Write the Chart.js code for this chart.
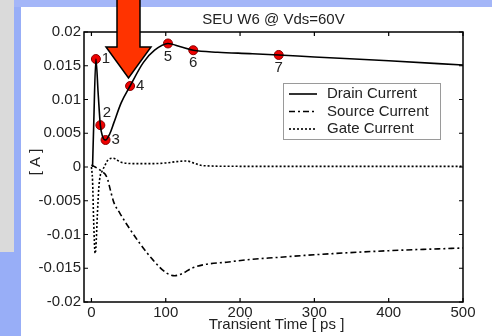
<!DOCTYPE html>
<html>
<head>
<meta charset="utf-8">
<script src="https://cdn.jsdelivr.net/npm/chart.js@4/dist/chart.umd.min.js"></script>
<style>
  html,body{margin:0;padding:0;}
  body{width:492px;height:336px;position:relative;overflow:hidden;background:#98aef7;}
  #topband{position:absolute;left:0;top:0;width:492px;height:7px;background:#a4b6f8;}
  #graybox{position:absolute;left:0;top:0;width:14px;height:252px;background:#dadada;}
  #panel{position:absolute;left:21px;top:7px;width:471px;height:329px;background:#fff;}
  #wrap{position:absolute;left:0;top:0;width:492px;height:336px;}
</style>
</head>
<body>
<div id="topband"></div>
<div id="graybox"></div>
<div id="panel"></div>
<div id="wrap"><canvas id="chart" width="492" height="336"></canvas></div>
<script>
/* SEU W6 transient currents, Vds = 60V */

const TITLE = 'SEU W6 @ Vds=60V';
const X_TITLE = 'Transient Time [ ps ]';
const Y_TITLE = '[ A ]';

const xTicks = [0, 100, 200, 300, 400, 500];
const yTicks = [-0.02, -0.015, -0.01, -0.005, 0, 0.005, 0.01, 0.015, 0.02];

// drain current (solid)
const drainT = [1.5, 3, 6, 9, 12, 15, 19, 25, 30, 40, 52, 70, 85, 103, 120, 137, 170, 213, 252, 300, 400, 500];
const drainI = [0, 0.006, 0.016, 0.011, 0.0062, 0.0045, 0.004, 0.005, 0.0065, 0.0095, 0.012, 0.0155, 0.0173, 0.0183, 0.0178, 0.0173, 0.0170, 0.0168, 0.0166, 0.0163, 0.01575, 0.0151];

// source current (dash-dot)
const sourceT = [0, 5, 11, 14, 18, 22, 25, 30, 38, 47, 65, 83, 101, 112, 122, 135, 150, 182, 213, 250, 300, 400, 500];
const sourceI = [0.0003, 0, -0.0004, -0.0007, -0.001, -0.0019, -0.0032, -0.0052, -0.0068, -0.0084, -0.0113, -0.0138, -0.0157, -0.0161, -0.0158, -0.015, -0.0145, -0.0141, -0.0137, -0.0134, -0.013, -0.0124, -0.012];

// gate current (dotted)
const gateT = [0, 1.5, 3, 5, 6, 8, 10, 12, 14, 18, 22, 29, 40, 60, 80, 100, 115, 128, 140, 150, 200, 300, 400, 500];
const gateI = [0, -0.002, -0.008, -0.0128, -0.012, -0.007, -0.003, -0.0012, -0.0007, 0.0002, 0.001, 0.0013, 0.0007, 0.0005, 0.0005, 0.0006, 0.0008, 0.0009, 0.0005, 0.0002, 0.0001, 0.0001, 0.0001, 0.0001];

// numbered sample points on the drain curve
const markerT = [6, 12, 19, 52, 103, 137, 252];
const markerI = [0.016, 0.0062, 0.004, 0.012, 0.0183, 0.0173, 0.0166];
const markerLabels = ['1', '2', '3', '4', '5', '6', '7'];
const markerLabelSide = ['right', 'upright', 'right', 'right', 'below', 'below', 'below'];

const legendNames = ['Drain Current', 'Source Current', 'Gate Current'];

const FONT = '15px "Liberation Sans", Arial, sans-serif';
const INK = '#222';
const DASH_SRC = [6, 3, 2, 3];
const DASH_GATE = [2, 2];

const pts = (xs, ys) => xs.map((x, i) => ({x, y: ys[i]}));

function lineSet(label, xs, ys, dash){
  return {label, data: pts(xs, ys), showLine: true, borderColor: '#000', borderWidth: 1.6,
    borderDash: dash, pointRadius: 0, fill: false, cubicInterpolationMode: 'monotone'};
}

const sideOffset = {right: [10, 0], upright: [6.5, -12], below: [0, 13]};

const decor = {id: 'decor',
  afterDatasetsDraw(chart){
    const {ctx, chartArea: {left, right, top, bottom}, scales: {x, y}} = chart;
    ctx.save();
    // frame with inward ticks on all four sides
    ctx.strokeStyle = '#000'; ctx.lineWidth = 1.5; ctx.setLineDash([]);
    ctx.strokeRect(left, top, right - left, bottom - top);
    ctx.lineWidth = 1.2;
    ctx.beginPath();
    xTicks.forEach(v => {
      const px = x.getPixelForValue(v);
      ctx.moveTo(px, bottom); ctx.lineTo(px, bottom - 4);
      ctx.moveTo(px, top); ctx.lineTo(px, top + 4);
    });
    yTicks.forEach(v => {
      const py = y.getPixelForValue(v);
      ctx.moveTo(left, py); ctx.lineTo(left + 4, py);
      ctx.moveTo(right, py); ctx.lineTo(right - 4, py);
    });
    ctx.stroke();

    // point numbers
    ctx.font = FONT; ctx.fillStyle = INK; ctx.textAlign = 'center'; ctx.textBaseline = 'middle';
    const meta = chart.getDatasetMeta(3);
    meta.data.forEach((el, i) => {
      const o = sideOffset[markerLabelSide[i]];
      ctx.fillText(markerLabels[i], el.x + o[0], el.y + o[1]);
    });

    // legend box
    const bx = 283, by = 83, bw = 157, bh = 56;
    ctx.fillStyle = '#fff'; ctx.fillRect(bx, by, bw, bh);
    ctx.strokeStyle = '#9a9a9a'; ctx.lineWidth = 1; ctx.strokeRect(bx + 0.5, by + 0.5, bw, bh);
    const dashes = [[], DASH_SRC, DASH_GATE];
    legendNames.forEach((name, i) => {
      const ry = by + 11 + i * 17.5;
      ctx.strokeStyle = '#000'; ctx.lineWidth = 1.6; ctx.setLineDash(dashes[i]);
      ctx.beginPath(); ctx.moveTo(bx + 6, ry); ctx.lineTo(bx + 34, ry); ctx.stroke();
      ctx.setLineDash([]);
      ctx.fillStyle = INK; ctx.textAlign = 'left';
      ctx.fillText(name, bx + 44, ry);
    });

    // titles
    ctx.textAlign = 'center';
    ctx.fillText(TITLE, (left + right) / 2, 20);
    ctx.fillText(X_TITLE, (left + right) / 2 + 3, 325);
    ctx.translate(36, 162); ctx.rotate(-Math.PI / 2);
    ctx.fillText(Y_TITLE, 0, 0);
    ctx.restore();
  },
  afterDraw(chart){
    // big red arrow pointing at sample 4
    const {ctx} = chart;
    ctx.save();
    ctx.beginPath();
    ctx.moveTo(117, -2); ctx.lineTo(140, -2); ctx.lineTo(140, 47); ctx.lineTo(151, 47);
    ctx.lineTo(128.5, 78); ctx.lineTo(106, 47); ctx.lineTo(117, 47); ctx.closePath();
    ctx.fillStyle = '#ff3300'; ctx.fill();
    ctx.strokeStyle = '#000'; ctx.lineWidth = 1.5; ctx.lineJoin = 'miter'; ctx.stroke();
    ctx.restore();
  }
};

new Chart(document.getElementById('chart'), {
  type: 'scatter',
  data: {datasets: [
    lineSet('Drain Current', drainT, drainI, []),
    lineSet('Source Current', sourceT, sourceI, DASH_SRC),
    lineSet('Gate Current', gateT, gateI, DASH_GATE),
    {label: 'samples', data: pts(markerT, markerI), showLine: false, pointRadius: 4.5,
      pointBackgroundColor: '#f00000', pointBorderColor: '#8a0000', pointBorderWidth: 1}
  ]},
  options: {
    responsive: false, animation: false, devicePixelRatio: 1,
    layout: {padding: {top: 32, right: 29, left: 0, bottom: 0}},
    plugins: {legend: {display: false}, tooltip: {enabled: false}},
    scales: {
      x: {type: 'linear', min: -10, max: 500,
        grid: {display: false, drawTicks: false}, border: {display: false},
        afterBuildTicks: s => { s.ticks = xTicks.map(v => ({value: v})); },
        afterFit: s => { s.height = 34; },
        ticks: {padding: 2, color: INK, font: {family: '"Liberation Sans", Arial, sans-serif', size: 15},
          maxRotation: 0, callback: v => String(v)}},
      y: {type: 'linear', min: -0.02, max: 0.02,
        grid: {display: false, drawTicks: false}, border: {display: false},
        afterBuildTicks: s => { s.ticks = yTicks.map(v => ({value: v})); },
        afterFit: s => { s.width = 84; },
        ticks: {padding: 3, color: INK, font: {family: '"Liberation Sans", Arial, sans-serif', size: 15},
          callback: v => String(+v.toFixed(3))}}
    }
  },
  plugins: [decor]
});
</script>
</body>
</html>
